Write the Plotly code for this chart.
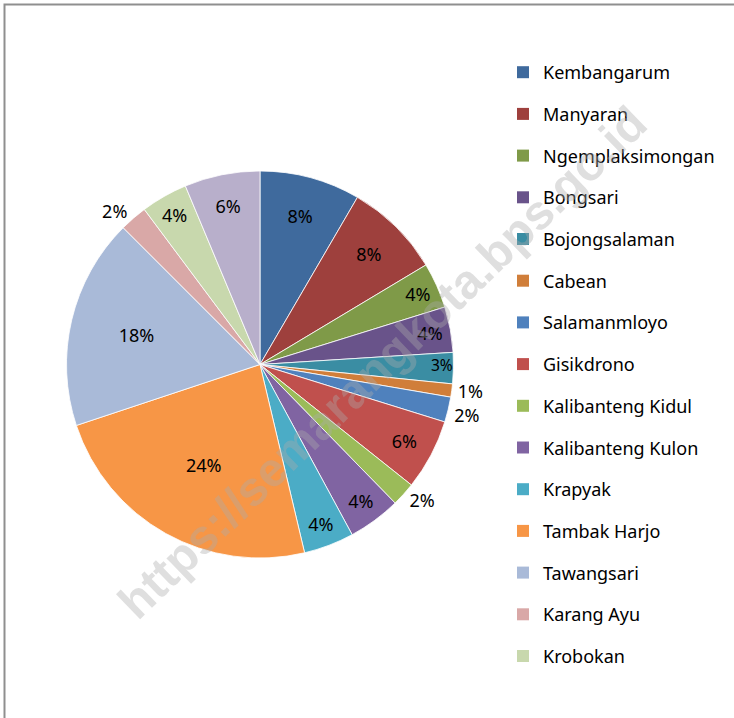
import plotly.graph_objects as go

# Data
kelurahan = ["Kembangarum", "Manyaran", "Ngemplaksimongan", "Bongsari", "Bojongsalaman",
             "Cabean", "Salamanmloyo", "Gisikdrono", "Kalibanteng Kidul", "Kalibanteng Kulon",
             "Krapyak", "Tambak Harjo", "Tawangsari", "Karang Ayu", "Krobokan", "Tawangmas"]
values = [84, 80, 38, 38, 26, 11, 21, 59, 20, 44, 42, 236, 176, 23, 39, 63]
colors = ["#3F6A9D", "#9E403D", "#7F9A48", "#69538A", "#3A8DA3", "#D07E3A",
          "#4F81BD", "#C0504D", "#9BBB59", "#8064A2", "#4BACC6", "#F79646",
          "#A9BAD8", "#D9A8A7", "#C8D8AD", "#B8AFCB"]
legend_count = 15  # legend shows only the first 15 entries
text_positions = ["inside", "inside", "inside", "inside", "inside", "outside", "outside",
                  "inside", "outside", "inside", "inside", "inside", "inside", "outside",
                  "inside", "inside"]

W, H = 734, 718
cx, cy, r = 260, 364.5, 193.5

fig = go.Figure()
fig.add_trace(go.Pie(
    labels=kelurahan, values=values, sort=False, direction="clockwise", rotation=0,
    marker=dict(colors=colors, line=dict(color="white", width=0.8)),
    texttemplate="%{percent:.0%}", textposition=text_positions,
    insidetextorientation="horizontal",
    textfont=dict(family="Noto Sans", size=18, color="black"),
    domain=dict(x=[(cx - r) / W, (cx + r) / W], y=[1 - (cy + r) / H, 1 - (cy - r) / H]),
    showlegend=False, hoverinfo="label+percent",
))

for i in range(legend_count):
    fig.add_trace(go.Scatter(
        x=[None], y=[None], mode="markers", name=kelurahan[i],
        marker=dict(symbol="square", size=12, color=colors[i]),
        legendgroup=f"g{i}", showlegend=True,
    ))

fig.add_annotation(
    text="<b>https://semarangkota.bps.go.id</b>", x=382 / W, y=1 - 362 / H,
    xref="paper", yref="paper", showarrow=False, textangle=-44,
    font=dict(family="Liberation Sans", size=48, color="rgba(170,170,170,0.38)"),
)

fig.add_shape(type="rect", xref="paper", yref="paper",
              x0=4.5 / W, x1=1.05, y0=-0.05, y1=1 - 4.5 / H,
              line=dict(color="#8f8f8f", width=2), fillcolor="rgba(0,0,0,0)", layer="above")

fig.update_layout(
    width=W, height=H,
    margin=dict(l=0, r=0, t=0, b=0),
    paper_bgcolor="white", plot_bgcolor="white",
    xaxis=dict(visible=False), yaxis=dict(visible=False),
    legend=dict(x=503 / W, y=1 - 54 / H, xanchor="left", yanchor="top",
                font=dict(family="Noto Sans", size=18, color="black"),
                tracegroupgap=15.3, traceorder="grouped", bgcolor="rgba(0,0,0,0)"),
    showlegend=True,
)

fig.write_html(
    "out.html", config={"displayModeBar": False},
    post_script=("document.body.style.margin='0';"
                 "document.querySelectorAll('path.textline').forEach(function(e){e.style.display='none';});"),
)
